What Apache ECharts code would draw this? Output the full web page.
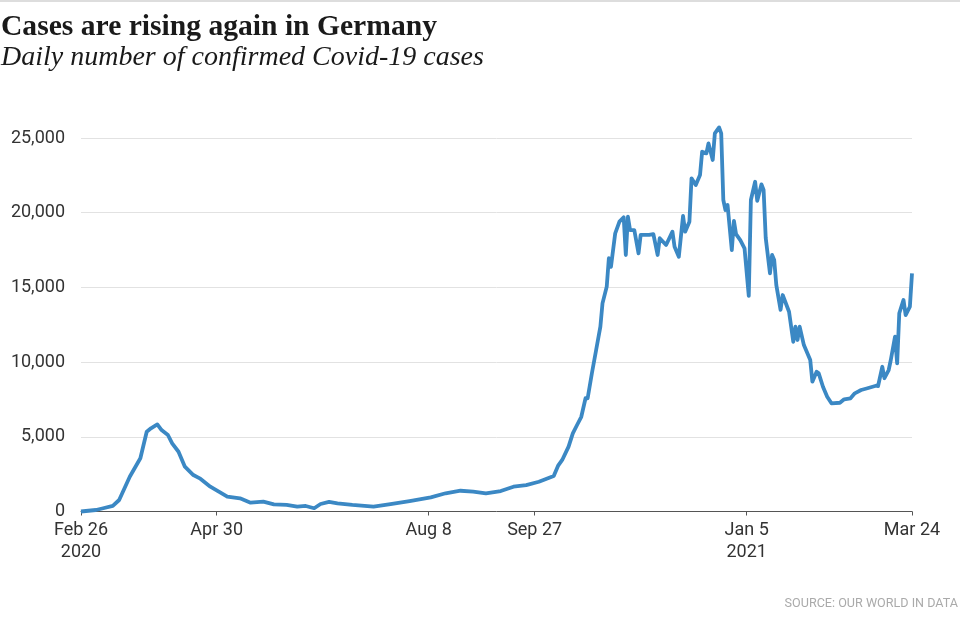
<!DOCTYPE html>
<html>
<head>
<meta charset="utf-8">
<script src="https://cdn.jsdelivr.net/npm/echarts@6/dist/echarts.min.js"></script>
<style>html,body{margin:0;padding:0;background:#fff;}#chart{width:960px;height:627px;}</style>
</head>
<body>
<div id="chart"></div>
<script>
var dates = ['2020-02-26','2020-03-04','2020-03-07','2020-03-12','2020-03-15','2020-03-20','2020-03-25','2020-03-28','2020-03-30','2020-04-02','2020-04-04','2020-04-07','2020-04-09','2020-04-12','2020-04-15','2020-04-19','2020-04-22','2020-04-27','2020-05-01','2020-05-05','2020-05-11','2020-05-16','2020-05-22','2020-05-27','2020-06-02','2020-06-07','2020-06-11','2020-06-15','2020-06-18','2020-06-22','2020-06-26','2020-07-03','2020-07-13','2020-07-21','2020-07-30','2020-08-09','2020-08-16','2020-08-23','2020-08-29','2020-09-04','2020-09-11','2020-09-17','2020-09-23','2020-09-29','2020-10-06','2020-10-08','2020-10-10','2020-10-13','2020-10-15','2020-10-17','2020-10-19','2020-10-21','2020-10-22','2020-10-24','2020-10-26','2020-10-28','2020-10-29','2020-10-31','2020-11-01','2020-11-02','2020-11-04','2020-11-06','2020-11-08','2020-11-09','2020-11-10','2020-11-11','2020-11-13','2020-11-15','2020-11-16','2020-11-20','2020-11-22','2020-11-24','2020-11-25','2020-11-28','2020-12-01','2020-12-02','2020-12-04','2020-12-06','2020-12-07','2020-12-09','2020-12-10','2020-12-12','2020-12-14','2020-12-15','2020-12-17','2020-12-18','2020-12-20','2020-12-21','2020-12-23','2020-12-24','2020-12-25','2020-12-26','2020-12-27','2020-12-29','2020-12-30','2020-12-31','2021-01-02','2021-01-04','2021-01-06','2021-01-07','2021-01-09','2021-01-10','2021-01-12','2021-01-13','2021-01-14','2021-01-16','2021-01-17','2021-01-18','2021-01-19','2021-01-21','2021-01-22','2021-01-25','2021-01-27','2021-01-28','2021-01-29','2021-01-30','2021-02-01','2021-02-04','2021-02-05','2021-02-07','2021-02-08','2021-02-10','2021-02-12','2021-02-14','2021-02-18','2021-02-20','2021-02-23','2021-02-25','2021-02-28','2021-03-03','2021-03-07','2021-03-08','2021-03-10','2021-03-11','2021-03-13','2021-03-14','2021-03-16','2021-03-17','2021-03-18','2021-03-20','2021-03-21','2021-03-23','2021-03-24'];
var cases = [0,100,200,370,770,2330,3560,5340,5570,5830,5450,5120,4560,4000,3000,2440,2220,1660,1330,990,880,590,660,480,440,320,370,220,500,640,550,440,320,500,700,950,1220,1390,1330,1220,1370,1660,1770,1990,2380,3050,3450,4340,5230,5790,6340,7580,7580,9250,10810,12370,13930,15050,16950,16380,18620,19400,19690,17170,19730,18840,18840,17280,18510,18510,18570,17170,18290,17840,18730,17720,17050,19780,18730,19400,22300,21850,22520,24080,23970,24640,23530,25310,25710,25310,20850,20180,20510,17500,19450,18570,18170,17620,14430,20850,22070,20800,21900,21520,18300,15940,17170,16830,15150,13500,14490,13370,11360,12370,11480,12370,11140,10140,8690,9360,9250,8350,7680,7240,7280,7510,7580,7910,8130,8250,8420,8400,9690,8920,9470,10140,11700,9920,13270,14160,13150,13710,15940];
var tickDates = ['2020-02-26','2020-04-30','2020-08-08','2020-09-27','2021-01-05','2021-03-24'];
var tickLabels = ['Feb 26\n2020','Apr 30','Aug 8','Sep 27','Jan 5\n2021','Mar 24'];

function ts(s){var p=s.split('-');return Date.UTC(+p[0],+p[1]-1,+p[2]);}
var seriesData = dates.map(function(d,i){return [ts(d),cases[i]];});
var tickTs = tickDates.map(ts);

var chart = echarts.init(document.getElementById('chart'), null, {renderer:'canvas'});
var axisFont = 'Roboto, "DejaVu Sans", sans-serif';
chart.setOption({
  backgroundColor:'#ffffff',
  animation:false,
  title:[
    {text:'Cases are rising again in Germany',left:1,top:12,padding:0,textStyle:{fontFamily:'"Liberation Serif","DejaVu Serif",serif',fontWeight:'bold',fontSize:29.6,color:'#1a1a1a'}},
    {text:'Daily number of confirmed Covid-19 cases',left:1,top:44,padding:0,textStyle:{fontFamily:'"Liberation Serif","DejaVu Serif",serif',fontStyle:'italic',fontWeight:'normal',fontSize:28,color:'#1a1a1a'}},
    {text:'SOURCE: OUR WORLD IN DATA',right:2,top:597,padding:0,textStyle:{fontFamily:axisFont,fontWeight:'normal',fontSize:12.6,color:'#aaaaaa'}}
  ],
  graphic:[{type:'rect',left:0,top:0,shape:{width:960,height:2},style:{fill:'#dddddd'}}],
  grid:{left:81,right:48,top:138,bottom:115.5,containLabel:false},
  xAxis:{
    type:'value',
    min:tickTs[0],max:tickTs[tickTs.length-1],
    axisLine:{show:true,lineStyle:{color:'#555',width:1}},
    axisTick:{show:true,length:4,lineStyle:{color:'#555'},customValues:tickTs},
    axisLabel:{customValues:tickTs,margin:8,fontFamily:axisFont,fontSize:18,color:'#333',lineHeight:22,
      formatter:function(v){var i=tickTs.indexOf(v);return i>=0?tickLabels[i]:'';}},
    splitLine:{show:false}
  },
  yAxis:{
    type:'value',min:0,max:25000,interval:5000,
    axisLine:{show:false},axisTick:{show:false},
    axisLabel:{margin:16,fontFamily:axisFont,fontSize:18,color:'#333',verticalAlign:'middle',padding:[0,0,14,0],
      formatter:function(v){return v.toLocaleString('en-US');}},
    splitLine:{show:true,lineStyle:{color:'#e2e2e2',width:1}}
  },
  series:[{type:'line',data:seriesData,showSymbol:false,clip:false,
    lineStyle:{color:'#3b88c4',width:3.8,join:'round'},itemStyle:{color:'#3b88c4'}}]
});
</script>
</body>
</html>
